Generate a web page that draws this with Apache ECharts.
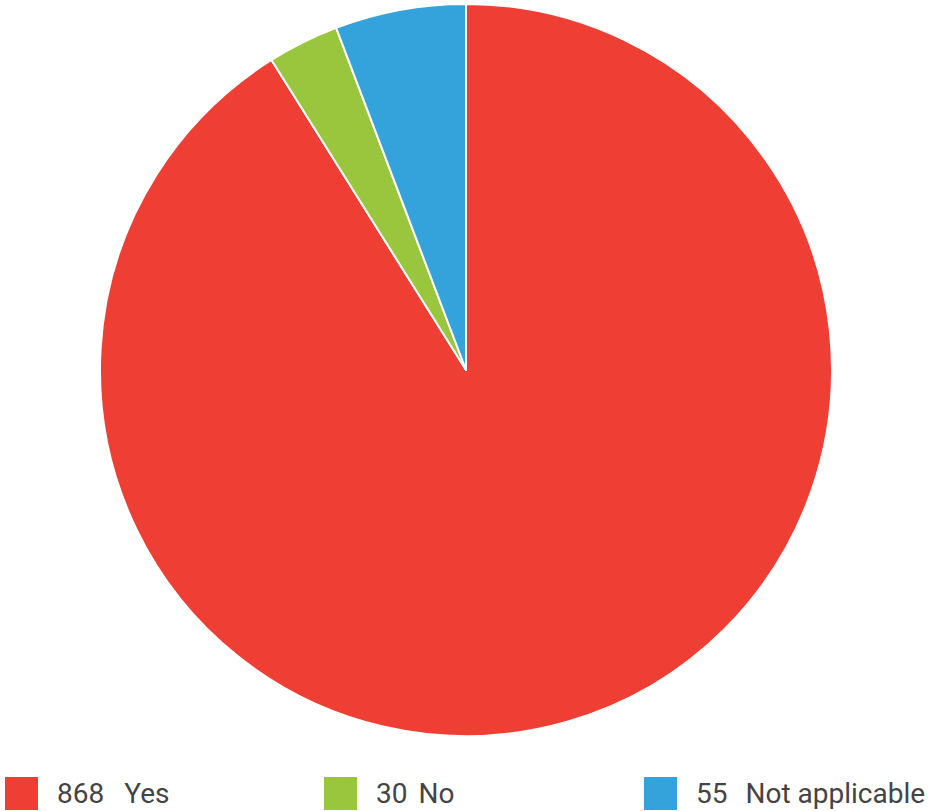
<!DOCTYPE html>
<html>
<head>
<meta charset="utf-8">
<script src="https://cdn.jsdelivr.net/npm/echarts@6/dist/echarts.min.js"></script>
<style>
  html, body { margin: 0; padding: 0; background: #fff; }
  #chart { width: 929px; height: 811px; }
</style>
</head>
<body>
<div id="chart"></div>
<script>
// Survey answers
const categories = ['Yes', 'No', 'Not applicable'];
const counts = [868, 30, 55];
const colors = ['#EF3E33', '#9AC63D', '#34A3DC'];

// Legend column placement and spacing between count and label
const legendLeft = [3, 322, 642];
const nameGap = [20, 11, 18];

const chart = echarts.init(document.getElementById('chart'), null, { renderer: 'svg' });

const legendFont = "Roboto, 'Liberation Sans', sans-serif";

const legends = categories.map((name, i) => ({
  data: [name],
  left: legendLeft[i],
  top: 775,
  padding: 0,
  orient: 'horizontal',
  itemWidth: 35,
  itemHeight: 35,
  icon: 'rect',
  selectedMode: false,
  formatter: n => '{v|' + counts[categories.indexOf(n)] + '}{n|' + n + '}',
  textStyle: {
    color: '#444',
    fontFamily: legendFont,
    fontSize: 28,
    rich: {
      v: { color: '#444', fontFamily: legendFont, fontSize: 28, padding: [0, 0, 0, 13] },
      n: { color: '#444', fontFamily: legendFont, fontSize: 28, padding: [0, 0, 0, nameGap[i]] }
    }
  }
}));

chart.setOption({
  animation: false,
  color: colors,
  legend: legends,
  series: [{
    type: 'pie',
    center: [466, 370],
    radius: 366,
    startAngle: 90,
    clockwise: true,
    label: { show: false },
    labelLine: { show: false },
    emphasis: { disabled: true },
    itemStyle: { borderColor: '#fff', borderWidth: 2 },
    data: categories.map((name, i) => ({ name, value: counts[i] }))
  }]
});
</script>
</body>
</html>
